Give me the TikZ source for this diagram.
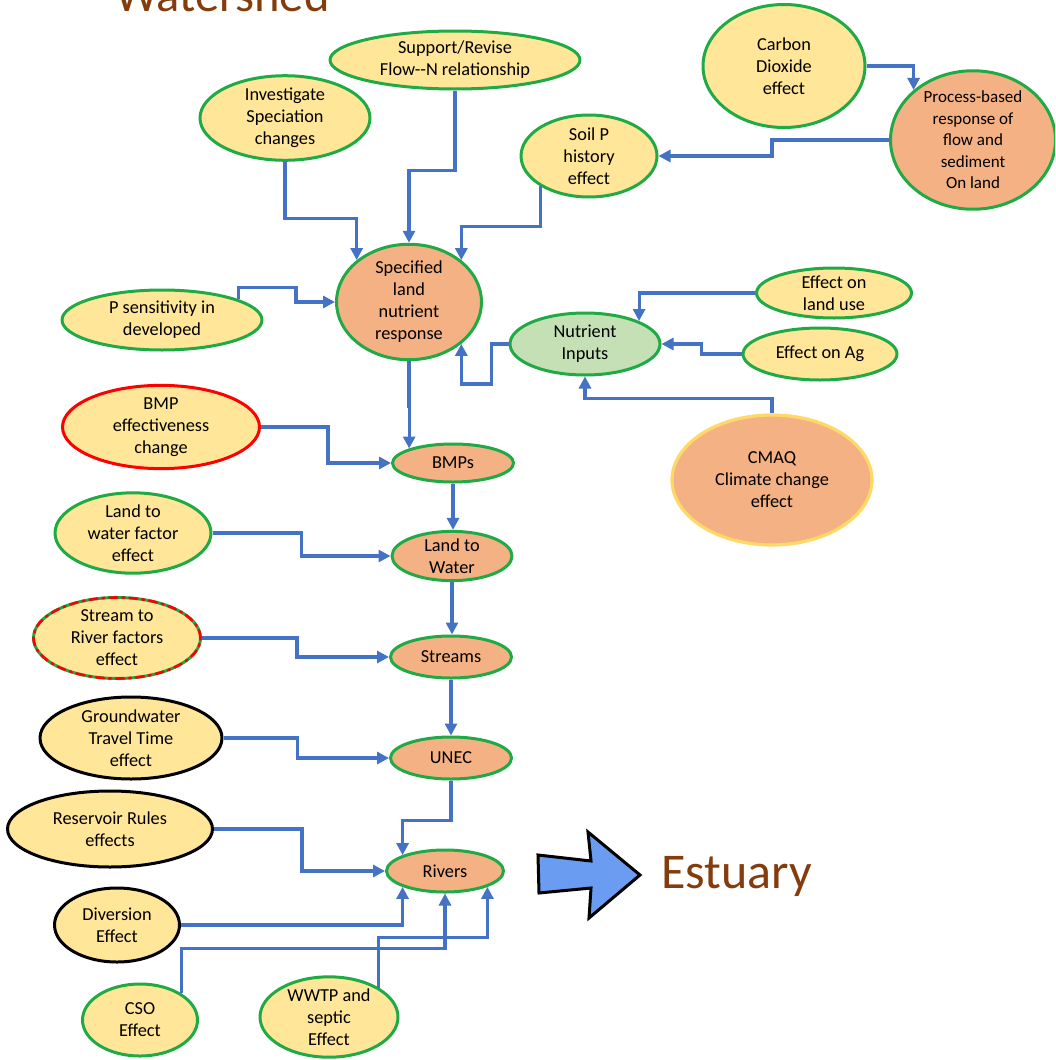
\documentclass[tikz,border=0pt]{standalone}
\usepackage{fontspec}
\setmainfont{Carlito}
\usetikzlibrary{arrows.meta,shapes.geometric,calc}
\definecolor{grn}{HTML}{1FAA45}
\definecolor{yel}{HTML}{FFE699}
\definecolor{org}{HTML}{F4B183}
\definecolor{pal}{HTML}{C5E0B4}
\definecolor{gld}{HTML}{FFD966}
\definecolor{lnk}{HTML}{4472C4}
\definecolor{brn}{HTML}{843C0C}
\definecolor{arw}{HTML}{6A9CF2}
\newcommand\boxfont{\fontsize{18.3}{22}\selectfont}
\newcommand\bigfont{\fontsize{50}{57}\selectfont}
\begin{document}
\begin{tikzpicture}[line cap=round,line join=round,>={Triangle[length=12pt,width=12pt]},x=1pt,y=-1pt,
  box/.style={ellipse,line width=3pt,inner sep=0pt,align=center,font=\boxfont},
  effect/.style={box,draw=grn,fill=yel},
  stage/.style={box,draw=grn,fill=org},
  hard/.style={box,draw=black,fill=yel},
  sz/.style 2 args={minimum width=#1pt,minimum height=#2pt},
  conn/.style={->,line width=3.2pt,color=lnk,line cap=butt,line join=miter}]
\useasboundingbox (0,0) rectangle (1055,1060);
\clip (0,0) rectangle (1055,1060);
% titles
\node[anchor=base west,inner sep=0pt,text=brn,font=\fontsize{48.5}{55}\selectfont] (wshed) at (115,11) {Watershed};
\node[anchor=base west,inner sep=0pt,text=brn,font=\bigfont] (estu) at (661,888) {Estuary};
\draw[line width=3pt,fill=arw,line join=miter] (538,855) -- (591,861) -- (588,832) -- (640,875) -- (589,918) -- (591,888) -- (539,893) -- cycle;
% upper part
\node[effect,sz={250}{58}] (Supp) at (455,60) {Support/Revise\\Flow{-}{-}N relationship};
\node[effect,sz={170}{70}] (Inv) at (285,118) {Investigate\\Speciation\\changes};
\node[effect,sz={162}{123}] (Carbon) at (784,66) {Carbon\\Dioxide\\effect};
\node[stage,sz={165}{125},font=\fontsize{17}{21.5}\selectfont] (Proc) at (973,140) {Process-based\\response of\\flow and\\sediment\\On land};
\node[effect,sz={136}{82}] (Soil) at (589,156) {Soil P\\history\\effect};
\node[stage,sz={145}{105}] (Spec) at (409,302) {Specified\\land\\nutrient\\response};
\node[effect,sz={200}{60}] (Psens) at (162,320) {P sensitivity in\\developed};
\node[box,draw=grn,fill=pal,sz={150}{62}] (Nutr) at (585,344) {Nutrient\\Inputs};
\node[effect,sz={155}{50}] (LandUse) at (834,293) {Effect on\\land use};
\node[effect,sz={154}{52}] (Ag) at (820,354) {Effect on Ag};
\node[box,draw=gld,fill=org,line width=3.2pt,sz={200}{130}] (CMAQ) at (772,480) {CMAQ\\Climate change\\effect};
% chain
\node[box,draw=red,fill=yel,sz={197}{70}] (BMPeff) at (161,427) {BMP\\effectiveness\\change};
\node[stage,sz={121}{38}] (BMPs) at (453,463) {BMPs};
\node[effect,sz={156}{74}] (LWf) at (133,533) {Land to\\water factor\\effect};
\node[stage,sz={120}{45}] (LW) at (452,556) {Land to\\Water};
\node[effect,sz={167}{81},postaction={draw=red,line width=2.6pt,dash pattern=on 8pt off 5pt on 2pt off 5pt}] (SRf) at (117,638) {Stream to\\River factors\\effect};
\node[stage,sz={121}{42}] (Streams) at (451,657) {Streams};
\node[hard,sz={182}{82}] (GW) at (131,738) {Groundwater\\Travel Time\\effect};
\node[stage,sz={121}{42}] (UNEC) at (451,758) {UNEC};
\node[hard,sz={205}{76}] (Res) at (110,829) {Reservoir Rules\\effects};
\node[stage,sz={117}{42}] (Rivers) at (445,871) {Rivers};
\node[hard,sz={125}{74}] (Div) at (117,925) {Diversion\\Effect};
\node[effect,sz={115}{72}] (CSO) at (140,1020) {CSO\\Effect};
\node[effect,sz={138}{80}] (WWTP) at (329,1017) {WWTP and\\septic\\Effect};
% connectors
\draw[conn] (Supp.south) -- ++(0,80) -| (Spec.north);
\draw[conn] (Inv.south) -- ++(0,57) -| (Spec.north west);
\draw[conn] (Soil.212) -- ++(0,40) -| (Spec.north east);
\draw[conn] (Carbon.east) -| (Proc.north west);
\draw[conn] (Proc.west) -- ++(-117,0) |- (Soil.east);
\draw[conn] (Psens.15) -- ++(0,-12) -| ($(Spec.west)+(-39,0)$) -- (Spec.west);
\draw[conn] (Spec.south) -- ++(0,45) -| (BMPs.north west);
\draw[conn] (Nutr.west) -- ++(-17,0) -- ++(0,40) -| (Spec.south east);
\draw[conn] (LandUse.west) -| (Nutr.north east);
\draw[conn] (Ag.west) -- ++(-40,0) |- (Nutr.east);
\draw[conn] (CMAQ.north) -- ++(0,-15) -| (Nutr.south);
\draw[conn] (BMPeff.east) -- ++(67,0) |- (BMPs.west);
\draw[conn] (BMPs.south) -- (BMPs.south |- LW.north);
\draw[conn] (LWf.east) -- ++(89,0) |- (LW.west);
\draw[conn] (LW.south) -- (LW.south |- Streams.north);
\draw[conn] (SRf.east) -- ++(95,0) |- (Streams.west);
\draw[conn] (Streams.south) -- (UNEC.north);
\draw[conn] (GW.east) -- ++(74,0) |- (UNEC.west);
\draw[conn] (UNEC.south) -- ++(0,40) -| (Rivers.north west);
\draw[conn] (Res.east) -- ++(88,0) |- (Rivers.west);
\draw[conn] (Div.east) -| (Rivers.south west);
\draw[conn] (CSO.north east) -- ++(0,-45) -| (Rivers.south);
\draw[conn] (WWTP.north east) -- ++(0,-50) -| (Rivers.south east);
\end{tikzpicture}
\end{document}
